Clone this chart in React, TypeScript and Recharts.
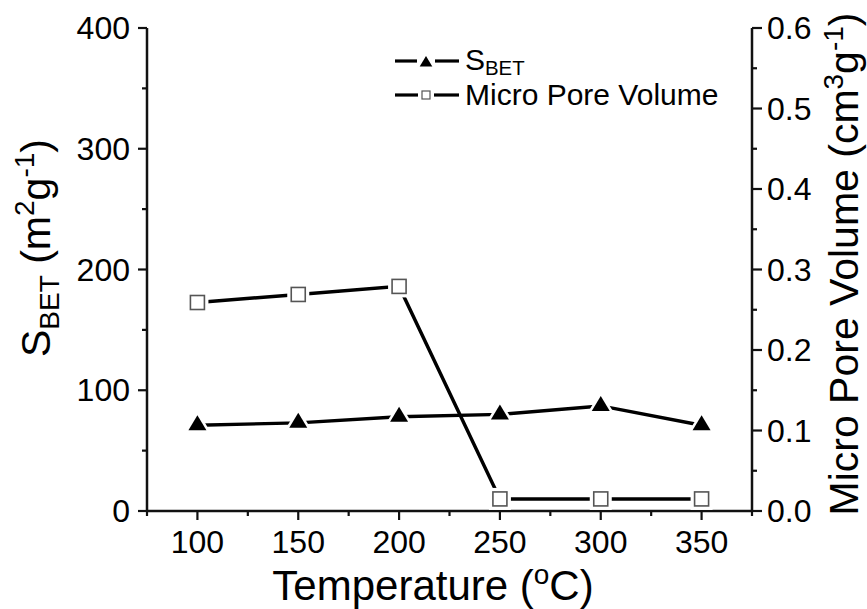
import { LineChart, Line, XAxis, YAxis, Legend } from 'recharts'

const FONT = '"Liberation Sans", Arial, sans-serif'
const INK = '#111'

const temperatures = [100, 150, 200, 250, 300, 350]
const sbetValues = [71, 73, 78, 80, 87, 71]
const poreVolumeValues = [0.259, 0.269, 0.279, 0.015, 0.015, 0.015]

const xTicks = [75, 100, 125, 150, 175, 200, 225, 250, 275, 300, 325, 350, 375]
const leftTicks = [0, 50, 100, 150, 200, 250, 300, 350, 400]
const rightTicks = [0, 0.05, 0.1, 0.15, 0.2, 0.25, 0.3, 0.35, 0.4, 0.45, 0.5, 0.55, 0.6]

const data = temperatures.map((t, i) => ({
  temp: t,
  sbet: sbetValues[i],
  volume: poreVolumeValues[i],
}))

function XTick({ x, y, payload }: any) {
  const v = payload.value
  const major = v % 50 === 0
  return (
    <g>
      <line x1={x} x2={x} y1={y} y2={y + (major ? 9 : 5)} stroke={INK} strokeWidth={2.2} />
      {major && (
        <text x={x} y={y + 42} textAnchor="middle" fontSize={32} fontFamily={FONT} fill="#000">
          {v}
        </text>
      )}
    </g>
  )
}

function LeftTick({ x, y, payload }: any) {
  const v = payload.value
  const major = v % 100 === 0
  return (
    <g>
      <line x1={x - (major ? 9 : 5)} x2={x} y1={y} y2={y} stroke={INK} strokeWidth={2.2} />
      {major && (
        <text x={x - 17} y={y + 11} textAnchor="end" fontSize={32} fontFamily={FONT} fill="#000">
          {v}
        </text>
      )}
    </g>
  )
}

function RightTick({ x, y, payload }: any) {
  const v = payload.value
  const major = Math.round(v * 100) % 10 === 0
  return (
    <g>
      <line x1={x} x2={x + (major ? 10 : 5)} y1={y} y2={y} stroke={INK} strokeWidth={2.2} />
      {major && (
        <text x={x + 15} y={y + 11} textAnchor="start" fontSize={32} fontFamily={FONT} fill="#000">
          {v.toFixed(1)}
        </text>
      )}
    </g>
  )
}

const tri = (cx: number, cy: number, s: number) =>
  `${cx},${cy - 10 * s} ${cx + 9 * s},${cy + 5 * s} ${cx - 9 * s},${cy + 5 * s}`

function TriangleDot({ cx, cy }: any) {
  if (cx == null || cy == null) return null
  return (
    <g>
      <polygon points={tri(cx, cy, 1.5)} fill="#fff" />
      <polygon points={tri(cx, cy, 1)} fill="#000" />
    </g>
  )
}

function SquareDot({ cx, cy }: any) {
  if (cx == null || cy == null) return null
  return (
    <g>
      <rect x={cx - 11} y={cy - 11} width={22} height={22} fill="#fff" />
      <rect x={cx - 7} y={cy - 7} width={14} height={14} fill="#fff" stroke="#555" strokeWidth={1.6} />
    </g>
  )
}

function XTitle() {
  return (
    <text x={433} y={600} textAnchor="middle" fontSize={42} fontFamily={FONT} fill="#000">
      Temperature (<tspan dy={-16} fontSize={28}>o</tspan>
      <tspan dy={16}>C)</tspan>
    </text>
  )
}

function LeftTitle() {
  return (
    <text
      x={50} y={0} transform="rotate(-90 50 0) translate(-248 0)"
      textAnchor="middle" fontSize={41} fontFamily={FONT} fill="#000"
    >
      S<tspan dy={9} fontSize={28}>BET</tspan>
      <tspan dy={-9}> (m</tspan>
      <tspan dy={-16} fontSize={28}>2</tspan>
      <tspan dy={16}>g</tspan>
      <tspan dy={-16} fontSize={28}>-1</tspan>
      <tspan dy={16}>)</tspan>
    </text>
  )
}

function RightTitle() {
  return (
    <text
      x={858} y={0} transform="rotate(-90 858 0) translate(-264 0)"
      textAnchor="middle" fontSize={41} fontFamily={FONT} fill="#000"
    >
      Micro Pore Volume (cm
      <tspan dy={-15} fontSize={28}>3</tspan>
      <tspan dy={15}>g</tspan>
      <tspan dy={-15} fontSize={28}>-1</tspan>
      <tspan dy={15}>)</tspan>
    </text>
  )
}

function LegendBox() {
  const row = { display: 'flex', alignItems: 'center', height: 34 } as const
  return (
    <div style={{ fontFamily: FONT, fontSize: 30, color: '#000', lineHeight: '34px' }}>
      <div style={row}>
        <svg width={72} height={34}>
          <line x1={2} x2={24} y1={17} y2={17} stroke="#000" strokeWidth={3.2} />
          <polygon points={tri(33, 19, 0.7)} fill="#000" />
          <line x1={42} x2={66} y1={17} y2={17} stroke="#000" strokeWidth={3.2} />
        </svg>
        <span>
          S<span style={{ fontSize: '0.68em', position: 'relative', top: '0.25em' }}>BET</span>
        </span>
      </div>
      <div style={row}>
        <svg width={72} height={34}>
          <line x1={2} x2={25} y1={17} y2={17} stroke="#000" strokeWidth={3.2} />
          <rect x={29} y={13} width={8} height={8} fill="#fff" stroke="#555" strokeWidth={1.2} />
          <line x1={41} x2={66} y1={17} y2={17} stroke="#000" strokeWidth={3.2} />
        </svg>
        <span>Micro Pore Volume</span>
      </div>
    </div>
  )
}

export default function App() {
  return (
    <div style={{ position: 'absolute', left: 0, top: 0, background: '#fff' }}>
      <LineChart width={867} height={609} data={data} margin={{ top: 28, right: 0, bottom: 0, left: 0 }}>
        <XAxis
          xAxisId="x" dataKey="temp" type="number" domain={[75, 375]} ticks={xTicks} interval={0}
          height={98} tickSize={0} tickMargin={0} tickLine={false} tick={<XTick />}
          axisLine={{ stroke: INK, strokeWidth: 2.5 }} allowDataOverflow
          label={<XTitle />}
        />
        <XAxis
          xAxisId="top" orientation="top" dataKey="temp" type="number" domain={[75, 375]}
          height={0} tick={false} tickLine={false} axisLine={{ stroke: INK, strokeWidth: 2.5 }}
        />
        <YAxis
          yAxisId="left" orientation="left" type="number" domain={[0, 400]} ticks={leftTicks} interval={0}
          width={147} tickSize={0} tickMargin={0} tickLine={false} tick={<LeftTick />}
          axisLine={{ stroke: INK, strokeWidth: 2.5 }} allowDataOverflow
          label={<LeftTitle />}
        />
        <YAxis
          yAxisId="right" orientation="right" type="number" domain={[0, 0.6]} ticks={rightTicks} interval={0}
          width={115} tickSize={0} tickMargin={0} tickLine={false} tick={<RightTick />}
          axisLine={{ stroke: INK, strokeWidth: 2.5 }} allowDataOverflow
          label={<RightTitle />}
        />
        <Legend
          layout="vertical" align="center" verticalAlign="middle"
          content={<LegendBox />}
          wrapperStyle={{ top: 44, left: 393, width: 360 }}
        />
        <Line
          xAxisId="x" yAxisId="left" dataKey="sbet" name="SBET" type="linear"
          stroke="#000" strokeWidth={3.4} dot={<TriangleDot />} activeDot={false}
          isAnimationActive={false}
        />
        <Line
          xAxisId="x" yAxisId="right" dataKey="volume" name="Micro Pore Volume" type="linear"
          stroke="#000" strokeWidth={3.4} dot={<SquareDot />} activeDot={false}
          isAnimationActive={false}
        />
      </LineChart>
    </div>
  )
}
